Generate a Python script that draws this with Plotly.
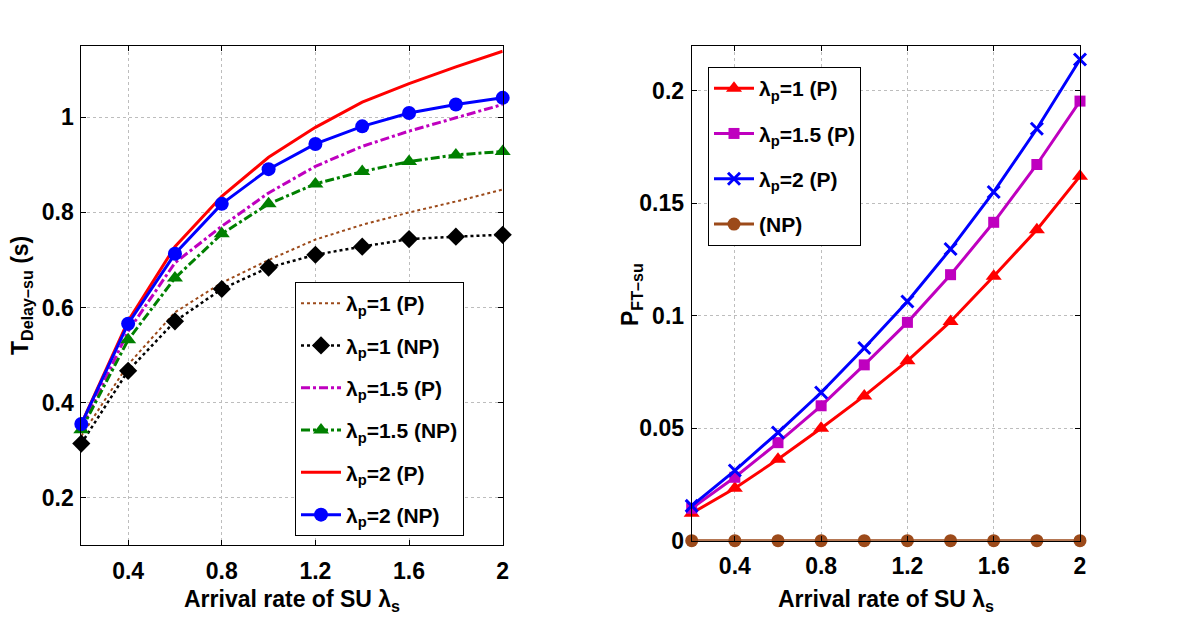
import plotly.graph_objects as go

# arrival rate of SU (x axis, both panels)
x_su = [0.2, 0.4, 0.6, 0.8, 1.0, 1.2, 1.4, 1.6, 1.8, 2.0]

# left panel: T_Delay-su (s)
delay_p1_P = [0.330, 0.480, 0.590, 0.652, 0.700, 0.743, 0.774, 0.800, 0.823, 0.848]
delay_p1_NP = [0.314, 0.467, 0.571, 0.639, 0.684, 0.711, 0.728, 0.744, 0.749, 0.753]
delay_p15_P = [0.345, 0.550, 0.694, 0.771, 0.841, 0.897, 0.939, 0.971, 0.999, 1.027]
delay_p15_NP = [0.343, 0.532, 0.662, 0.755, 0.818, 0.860, 0.886, 0.907, 0.921, 0.928]
delay_p2_P = [0.355, 0.572, 0.728, 0.834, 0.916, 0.979, 1.032, 1.071, 1.106, 1.139]
delay_p2_NP = [0.355, 0.566, 0.713, 0.818, 0.891, 0.944, 0.981, 1.009, 1.027, 1.041]

# right panel: P_FT-su
pft_p1 = [0.0122, 0.0233, 0.0362, 0.0500, 0.0644, 0.0800, 0.0975, 0.1176, 0.1383, 0.1621]
pft_p15 = [0.0144, 0.0282, 0.0436, 0.0600, 0.0782, 0.0971, 0.1183, 0.1416, 0.1673, 0.1955]
pft_p2 = [0.0155, 0.0312, 0.0481, 0.0659, 0.0857, 0.1064, 0.1297, 0.1551, 0.1832, 0.2140]
pft_np = [0, 0, 0, 0, 0, 0, 0, 0, 0, 0]

x_ticks = [0.4, 0.8, 1.2, 1.6, 2]
left_yticks = [0.2, 0.4, 0.6, 0.8, 1]
right_yticks = [0, 0.05, 0.1, 0.15, 0.2]

BROWN = '#9c4a1a'
MAGENTA = '#bf00bf'
GREEN = '#008000'
FONT = dict(family='Liberation Sans, Arial, sans-serif', size=23, color='black', weight='bold')

# the page body has an 8px margin, so the figure is a bit smaller and shifted
OFF = 8
W, H = 1200 - OFF, 627 - OFF
def px_x(p): return (p - OFF) / W
def px_y(p): return (H - (p - OFF)) / H

fig = go.Figure()

def add(x, y, name, color, dash, width, symbol=None, msize=0, xa='x', ya='y', legend='legend', group=''):
    mode = 'lines+markers' if symbol else 'lines'
    fig.add_trace(go.Scatter(
        x=x, y=y, name=name, mode=mode, xaxis=xa, yaxis=ya, legend=legend,
        legendgroup=group, cliponaxis=False,
        line=dict(color=color, dash=dash, width=width),
        marker=dict(symbol=symbol, size=msize, color=color,
                    line=dict(width=3 if symbol == 'x-thin' else 0, color=color)) if symbol else None))

lp = 'λ<sub>p</sub>'
add(x_su, delay_p1_P, f'{lp}=1 (P)', BROWN, 'dot', 2, group='a')
add(x_su, delay_p1_NP, f'{lp}=1 (NP)', 'black', 'dot', 2.5, 'diamond', 14, group='b')
add(x_su, delay_p15_P, f'{lp}=1.5 (P)', MAGENTA, 'dashdot', 3, group='c')
add(x_su, delay_p15_NP, f'{lp}=1.5 (NP)', GREEN, 'dashdot', 3, 'triangle-up', 14, group='d')
add(x_su, delay_p2_P, f'{lp}=2 (P)', 'red', 'solid', 3, group='e')
add(x_su, delay_p2_NP, f'{lp}=2 (NP)', 'blue', 'solid', 3, 'circle', 14, group='f')

add(x_su, pft_p1, f'{lp}=1 (P)', 'red', 'solid', 3, 'triangle-up', 14, 'x2', 'y2', 'legend2', 'g')
add(x_su, pft_p15, f'{lp}=1.5 (P)', MAGENTA, 'solid', 3, 'square', 11, 'x2', 'y2', 'legend2', 'h')
add(x_su, pft_p2, f'{lp}=2 (P)', 'blue', 'solid', 3, 'x-thin', 12, 'x2', 'y2', 'legend2', 'i')
add(x_su, pft_np, '(NP)', BROWN, 'solid', 3, 'circle', 13, 'x2', 'y2', 'legend2', 'j')

axis_style = dict(showline=True, mirror='ticks', linecolor='black', linewidth=1,
                  ticks='inside', ticklen=5, tickcolor='black', zeroline=False,
                  showgrid=True, gridcolor='#bdbdbd', griddash='dot', gridwidth=1,
                  tickfont=FONT)

fig.update_layout(
    width=W, height=H, template='none', paper_bgcolor='white', plot_bgcolor='white',
    margin=dict(l=0, r=0, t=0, b=0), font=FONT,
    xaxis=dict(domain=[px_x(81.3), px_x(502.7)], range=[0.2, 2], tickvals=x_ticks,
               ticktext=['0.4', '0.8', '1.2', '1.6', '2'], anchor='y', ticklabelstandoff=5, **axis_style),
    yaxis=dict(domain=[px_y(545.3), px_y(46)], range=[0.1, 1.15], tickvals=left_yticks,
               ticktext=['0.2', '0.4', '0.6', '0.8', '1'], anchor='x', ticklabelstandoff=2, **axis_style),
    xaxis2=dict(domain=[px_x(691.7), px_x(1080)], range=[0.2, 2], tickvals=x_ticks,
                ticktext=['0.4', '0.8', '1.2', '1.6', '2'], anchor='y2', ticklabelstandoff=5, **axis_style),
    yaxis2=dict(domain=[px_y(540.7), px_y(46)], range=[0, 0.22], tickvals=right_yticks,
                ticktext=['0', '0.05', '0.1', '0.15', '0.2'], anchor='x2', ticklabelstandoff=2, **axis_style),
    legend=dict(x=px_x(295), y=px_y(282), xanchor='left', yanchor='top', bgcolor='white',
                bordercolor='black', borderwidth=1, font=dict(FONT, size=21),
                tracegroupgap=12, itemwidth=40),
    legend2=dict(x=px_x(708), y=px_y(67), xanchor='left', yanchor='top', bgcolor='white',
                 bordercolor='black', borderwidth=1, font=dict(FONT, size=21),
                 tracegroupgap=15, itemwidth=40),
    showlegend=True,
)

# axis titles
for xc in (292, 886):
    fig.add_annotation(text='Arrival rate of SU λ<sub>s</sub>', x=px_x(xc), y=px_y(600),
                       xref='paper', yref='paper', xanchor='center', yanchor='middle',
                       showarrow=False, font=FONT)
fig.add_annotation(text='T<sub>Delay–su</sub> (s)', x=px_x(21), y=px_y(296), xref='paper', yref='paper',
                   xanchor='center', yanchor='middle', showarrow=False, textangle=-90, font=FONT)
fig.add_annotation(text='P<sub>FT–su</sub>', x=px_x(631), y=px_y(295), xref='paper', yref='paper',
                   xanchor='center', yanchor='middle', showarrow=False, textangle=-90, font=FONT)

fig.write_html("out.html")
